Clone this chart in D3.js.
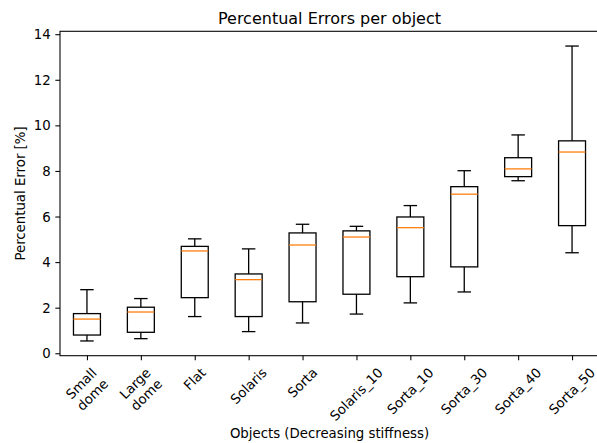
<!DOCTYPE html>
<html>
<head>
<meta charset="utf-8">
<script src="https://cdn.jsdelivr.net/npm/d3@7"></script>
<style>
  html, body { margin: 0; padding: 0; background: #fff; }
  svg { display: block; font-family: "DejaVu Sans", sans-serif; }
</style>
</head>
<body>
<svg id="chart" width="597" height="443"></svg>
<script>
// Box-plot summary per object (percent error)
const categories   = ["Small\ndome", "Large\ndome", "Flat", "Solaris", "Sorta", "Solaris_10", "Sorta_10", "Sorta_30", "Sorta_40", "Sorta_50"];
const whiskerLow   = [0.54, 0.64, 1.61, 0.95, 1.33, 1.72, 2.21, 2.69, 7.57, 4.41];
const q1Values     = [0.80, 0.92, 2.44, 1.61, 2.26, 2.59, 3.36, 3.79, 7.75, 5.60];
const medianValues = [1.50, 1.81, 4.49, 3.23, 4.75, 5.10, 5.51, 6.98, 8.09, 8.83];
const q3Values     = [1.74, 2.02, 4.69, 3.48, 5.28, 5.37, 5.98, 7.31, 8.58, 9.32];
const whiskerHigh  = [2.79, 2.40, 5.02, 4.58, 5.66, 5.57, 6.48, 8.01, 9.58, 13.48];
const yTickValues  = [0, 2, 4, 6, 8, 10, 12, 14];

const boxes = categories.map((c, i) => ({
  cat: c, lo: whiskerLow[i], q1: q1Values[i], med: medianValues[i], q3: q3Values[i], hi: whiskerHigh[i]
}));

const svg = d3.select("#chart");
const plot = { left: 60, right: 599, top: 31.3, bottom: 355.7 };

// x: band positions 1..10 inside [0.5, 10.5]
const x = d3.scaleLinear().domain([0.5, categories.length + 0.5]).range([plot.left, plot.right]);
const step = x(2) - x(1);

// y: data range with 5% padding
const dMin = d3.min(whiskerLow), dMax = d3.max(whiskerHigh);
const pad = (dMax - dMin) * 0.05;
const y = d3.scaleLinear().domain([dMin - pad, dMax + pad]).range([plot.bottom, plot.top]);

const lw = 1.3;
const g = svg.append("g");

// Boxes
const bw = step * 0.5, cw = step * 0.25;
const bx = g.selectAll("g.box").data(boxes).join("g").attr("class", "box");
bx.append("line") // lower whisker
  .attr("x1", (d, i) => x(i + 1)).attr("x2", (d, i) => x(i + 1))
  .attr("y1", d => y(d.q1)).attr("y2", d => y(d.lo))
  .attr("stroke", "#000").attr("stroke-width", lw);
bx.append("line") // upper whisker
  .attr("x1", (d, i) => x(i + 1)).attr("x2", (d, i) => x(i + 1))
  .attr("y1", d => y(d.q3)).attr("y2", d => y(d.hi))
  .attr("stroke", "#000").attr("stroke-width", lw);
bx.append("line") // lower cap
  .attr("x1", (d, i) => x(i + 1) - cw / 2).attr("x2", (d, i) => x(i + 1) + cw / 2)
  .attr("y1", d => y(d.lo)).attr("y2", d => y(d.lo))
  .attr("stroke", "#000").attr("stroke-width", lw);
bx.append("line") // upper cap
  .attr("x1", (d, i) => x(i + 1) - cw / 2).attr("x2", (d, i) => x(i + 1) + cw / 2)
  .attr("y1", d => y(d.hi)).attr("y2", d => y(d.hi))
  .attr("stroke", "#000").attr("stroke-width", lw);
bx.append("rect")
  .attr("x", (d, i) => x(i + 1) - bw / 2).attr("width", bw)
  .attr("y", d => y(d.q3)).attr("height", d => y(d.q1) - y(d.q3))
  .attr("fill", "none").attr("stroke", "#000").attr("stroke-width", lw);
bx.append("line") // median
  .attr("x1", (d, i) => x(i + 1) - bw / 2).attr("x2", (d, i) => x(i + 1) + bw / 2)
  .attr("y1", d => y(d.med)).attr("y2", d => y(d.med))
  .attr("stroke", "#ff7f0e").attr("stroke-width", lw);

// Spines
const spineW = 1.07;
svg.append("rect")
  .attr("x", plot.left).attr("y", plot.top)
  .attr("width", plot.right - plot.left).attr("height", plot.bottom - plot.top)
  .attr("fill", "none").attr("stroke", "#000").attr("stroke-width", spineW);

const tickLen = 4.67, tickPad = 4.67, fs = 13.3;

// Y axis
const yAxis = d3.axisLeft(y).tickValues(yTickValues).tickSize(tickLen).tickPadding(tickPad).tickFormat(d3.format("d"));
const ya = svg.append("g").attr("transform", `translate(${plot.left},0)`).call(yAxis);
ya.select(".domain").remove();
ya.selectAll(".tick line").attr("stroke", "#000").attr("stroke-width", spineW);
ya.selectAll(".tick text").attr("font-size", fs).attr("fill", "#000")
  .attr("font-family", "DejaVu Sans").attr("dy", "0.34em");

// X axis ticks
const xAxis = d3.axisBottom(x).tickValues(d3.range(1, categories.length + 1)).tickSize(tickLen).tickFormat("");
const xa = svg.append("g").attr("transform", `translate(0,${plot.bottom})`).call(xAxis);
xa.select(".domain").remove();
xa.selectAll(".tick line").attr("stroke", "#000").attr("stroke-width", spineW);

// Rotated category labels: rotated box is centered on the tick, top edge below it
const labelTop = plot.bottom + tickLen + tickPad;
categories.forEach((c, i) => {
  const lines = c.split("\n");
  const outer = svg.append("g");
  const inner = outer.append("g");
  const t = inner.append("text").attr("font-size", fs).attr("text-anchor", "middle").attr("fill", "#000");
  lines.forEach((ln, k) => {
    t.append("tspan").attr("x", 0).attr("dy", k === 0 ? 0 : fs * 1.2).text(ln);
  });
  const bb = t.node().getBBox();
  const cx = bb.x + bb.width / 2, cy = bb.y + bb.height / 2;
  const rh = (bb.width + bb.height) * Math.SQRT1_2;
  inner.attr("transform", `rotate(-45) translate(${-cx},${-cy})`);
  outer.attr("transform", `translate(${x(i + 1)},${labelTop + rh / 2})`);
});

// Title and axis labels
svg.append("text")
  .attr("x", (plot.left + plot.right) / 2).attr("y", 23.6)
  .attr("text-anchor", "middle").attr("font-size", 16).attr("fill", "#000")
  .text("Percentual Errors per object");

svg.append("text")
  .attr("x", (plot.left + plot.right) / 2).attr("y", 438.3)
  .attr("text-anchor", "middle").attr("font-size", fs).attr("fill", "#000")
  .text("Objects (Decreasing stiffness)");

svg.append("text")
  .attr("transform", `translate(25,${(plot.top + plot.bottom) / 2}) rotate(-90)`)
  .attr("text-anchor", "middle").attr("font-size", fs).attr("fill", "#000")
  .text("Percentual Error [%]");
</script>
</body>
</html>
